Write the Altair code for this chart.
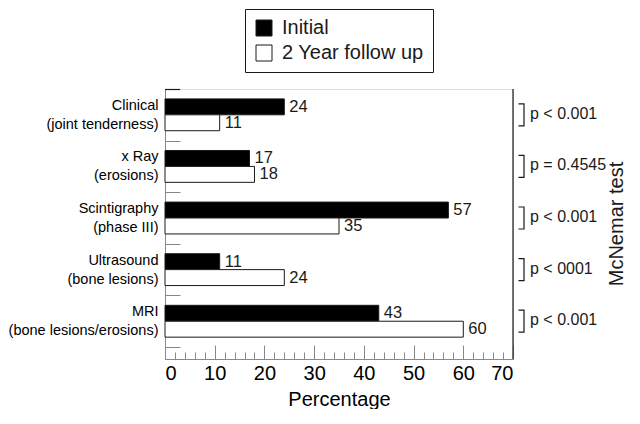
import altair as alt
import pandas as pd

# ---- data ----
main_labels = ["Clinical", "x Ray", "Scintigraphy", "Ultrasound", "MRI"]
sub_labels = ["(joint tenderness)", "(erosions)", "(phase III)", "(bone lesions)",
              "(bone lesions/erosions)"]
series = ["Initial", "2 Year follow up"]
initial = [24, 17, 57, 11, 43]
follow_up = [11, 18, 35, 24, 60]
p_values = ["p < 0.001", "p = 0.4545", "p < 0.001", "p < 0001", "p < 0.001"]
test_title = ["McNemar test"]
x_major = [0, 10, 20, 30, 40, 50, 60, 70]
x_minor = list(range(0, 72, 2))

# ---- styling ----
W, H = 348, 270
FONT = "Liberation Sans"
INK = "#1a1a1a"

categories = [f"{m}|{s}" for m, s in zip(main_labels, sub_labels)]

bars = pd.DataFrame({
    "category": categories * 2,
    "series": [series[0]] * len(categories) + [series[1]] * len(categories),
    "value": initial + follow_up,
})
tests = pd.DataFrame({"category": categories, "p": p_values})
title_df = pd.DataFrame({"label": test_title})

y_scale = alt.Scale(domain=categories, paddingInner=0, paddingOuter=0.116, align=0)
off_scale = alt.Scale(domain=series, paddingInner=0, paddingOuter=0.62)
x_scale = alt.Scale(domain=[0, 70], nice=False, zero=True)

bar_layer = alt.Chart(bars).mark_bar(stroke=INK, strokeWidth=1).encode(
    x=alt.X("value:Q", scale=x_scale,
            axis=alt.Axis(orient="bottom", values=x_major, offset=-14, tickSize=14,
                          domain=False, grid=False, labelFontSize=20, labelPadding=4,
                          title="Percentage", titleFontSize=20, titleFontWeight="normal",
                          titlePadding=6)),
    y=alt.Y("category:N", sort=categories, scale=y_scale,
            axis=alt.Axis(orient="left", ticks=False, domain=True, grid=False,
                          labelExpr="split(datum.label, '|')", labelFontSize=14.5,
                          labelLineHeight=19, labelPadding=7, labelOffset=-9,
                          title=None)),
    yOffset=alt.YOffset("series:N", sort=series, scale=off_scale),
    fill=alt.Fill("series:N", sort=series,
                  scale=alt.Scale(domain=series, range=["black", "white"]),
                  legend=alt.Legend(orient="none", legendX=80, legendY=-80, title=None,
                                    direction="vertical", symbolType="square",
                                    symbolSize=256, symbolStrokeColor=INK,
                                    symbolStrokeWidth=1, labelFontSize=20,
                                    labelFont=FONT, labelColor=INK, strokeColor=INK,
                                    fillColor="white", padding=9, rowPadding=5,
                                    labelOffset=8, symbolOpacity=1)),
)

value_layer = alt.Chart(bars).mark_text(align="left", baseline="middle", dx=5,
                                          fontSize=16.5, font=FONT, color=INK).encode(
    x=alt.X("value:Q", scale=x_scale,
            axis=alt.Axis(orient="top", offset=-H, values=x_minor, tickSize=7,
                          labels=False, domain=True, grid=False, title=None)),
    y=alt.Y("category:N", sort=categories, scale=y_scale,
            axis=alt.Axis(orient="right", offset=-W, tickSize=15, tickBand="extent",
                          labels=False, domain=False, grid=False, title=None)),
    yOffset=alt.YOffset("series:N", sort=series, scale=off_scale),
    text=alt.Text("value:Q"),
)

bracket_layer = alt.Chart(tests).mark_point(
    shape="M-0.5,-1H0V1H-0.5", filled=False, stroke=INK, strokeWidth=1.2,
    size=484, opacity=1).encode(
    x=alt.value(W + 11),
    y=alt.Y("category:N", sort=categories, scale=y_scale, axis=None),
)

p_layer = alt.Chart(tests).mark_text(align="left", baseline="middle", fontSize=16,
                                     font=FONT, color=INK, dy=-1).encode(
    x=alt.value(W + 17),
    y=alt.Y("category:N", sort=categories, scale=y_scale, axis=None),
    text=alt.Text("p:N"),
)

right_line = alt.Chart(title_df).mark_rule(color=INK, strokeWidth=1.2).encode(
    x=alt.value(W), y=alt.value(0), y2=alt.value(H))

top_tick = alt.Chart(title_df).mark_rule(color=INK, strokeWidth=1.2).encode(
    x=alt.value(0), x2=alt.value(15), y=alt.value(0.5))

mc_layer = alt.Chart(title_df).mark_text(angle=270, fontSize=20, font=FONT, color=INK,
                                         align="center", baseline="middle").encode(
    x=alt.value(W + 104), y=alt.value(H / 2), text=alt.Text("label:N"))

chart = (
    alt.layer(bar_layer, value_layer, bracket_layer, p_layer, right_line, top_tick,
              mc_layer)
    .resolve_axis(x="independent", y="independent")
    .properties(width=W, height=H, padding=0)
    .configure_view(stroke=None)
    .configure_axis(domainColor=INK, tickColor=INK, labelColor=INK, titleColor=INK,
                    labelFont=FONT, titleFont=FONT, domainWidth=1.2, tickWidth=1.2)
    .configure(font=FONT)
)

chart.save("out.html", embed_options={"renderer": "svg", "actions": False})
